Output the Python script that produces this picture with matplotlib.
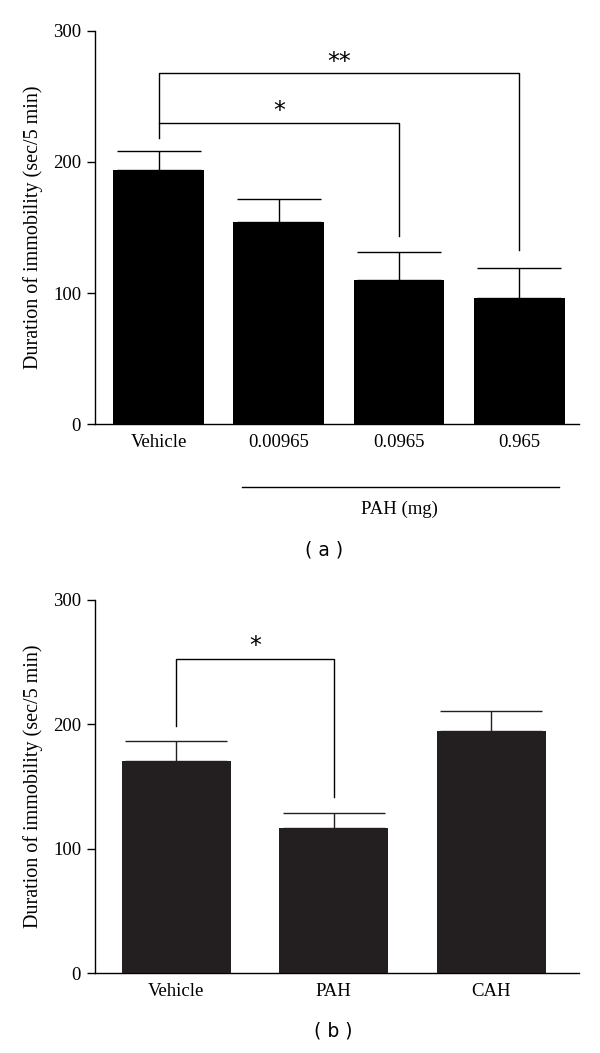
import matplotlib.pyplot as plt
import matplotlib.transforms as mtransforms
import numpy as np

# panel (a): PAH doses
groups_a = ["Vehicle", "0.00965", "0.0965", "0.965"]
mean_a = [194, 154, 110, 96]
sem_a = [14, 18, 21, 23]

# panel (b): vehicle vs PAH vs CAH
groups_b = ["Vehicle", "PAH", "CAH"]
mean_b = [171, 117, 195]
sem_b = [16, 12, 16]

yticks = [0, 100, 200, 300]
ylabel = "Duration of immobility (sec/5 min)"

serif = ["Liberation Serif", "DejaVu Serif"]
plt.rcParams["font.family"] = serif
plt.rcParams["font.size"] = 13.5

fig = plt.figure(figsize=(6, 10.53), dpi=100)
ax_a = fig.add_axes([0.1583, 0.597, 0.8072, 0.3738])
ax_b = fig.add_axes([0.1583, 0.0757, 0.8072, 0.3545])


def style_axis(ax, labels, xlim):
    ax.set_ylim(0, 300)
    ax.set_yticks(yticks)
    ax.set_xlim(*xlim)
    ax.set_xticks(range(len(labels)))
    ax.set_xticklabels(labels)
    for s in ["top", "right"]:
        ax.spines[s].set_visible(False)
    for s in ["left", "bottom"]:
        ax.spines[s].set_linewidth(1.0)
    ax.tick_params(axis="y", direction="out", length=6, width=1.0, pad=4, labelsize=13.5)
    ax.tick_params(axis="x", length=0, pad=7, labelsize=13.5)
    ax.set_ylabel(ylabel, fontsize=14.5)


def bracket(ax, x0, x1, ytop, y0, y1, star, sx, sy):
    ax.plot([x0, x0, x1, x1], [y0, ytop, ytop, y1], color="black", lw=1.0, clip_on=False)
    ax.text(sx, sy, star, ha="center", va="center", fontsize=17, family="DejaVu Sans")


# ---- panel (a)
xa = np.arange(len(groups_a))
ax_a.bar(xa, mean_a, width=0.755, color="black", zorder=3)
ax_a.errorbar(xa, mean_a, yerr=[np.zeros(len(xa)), sem_a], fmt="none",
              ecolor="black", elinewidth=1.0, capsize=30, capthick=1.0, zorder=2)
style_axis(ax_a, groups_a, (-0.53, 3.5))
ax_a.yaxis.set_label_coords(-0.108, 0.5)

bracket(ax_a, 0, 3, 268, 218, 133, "**", 1.5, 276)
bracket(ax_a, 0, 2, 229.5, 229.5, 143.5, "*", 1.0, 239)

trans = mtransforms.blended_transform_factory(ax_a.transData, ax_a.transAxes)
ax_a.plot([0.69, 3.33], [-0.16, -0.16], color="black", lw=1.0,
          transform=trans, clip_on=False)
ax_a.text(2.0, -0.215, "PAH (mg)", transform=trans, ha="center", va="center", fontsize=13.5)
ax_a.text(1.38, -0.32, "( a )", transform=trans, ha="center", va="center",
          fontsize=13.5, family="DejaVu Sans")

# ---- panel (b)
xb = np.arange(len(groups_b))
ax_b.bar(xb, mean_b, width=0.692, color="#231f20", zorder=3)
ax_b.errorbar(xb, mean_b, yerr=[np.zeros(len(xb)), sem_b], fmt="none",
              ecolor="#231f20", elinewidth=1.0, capsize=37, capthick=1.0, zorder=2)
style_axis(ax_b, groups_b, (-0.516, 2.56))
ax_b.yaxis.set_label_coords(-0.108, 0.5)

bracket(ax_b, 0, 1, 252.7, 199, 142, "*", 0.5, 263)

trans_b = mtransforms.blended_transform_factory(ax_b.transData, ax_b.transAxes)
ax_b.text(1.0, -0.155, "( b )", transform=trans_b, ha="center", va="center",
          fontsize=13.5, family="DejaVu Sans")

fig.savefig("out.png", dpi=100)
